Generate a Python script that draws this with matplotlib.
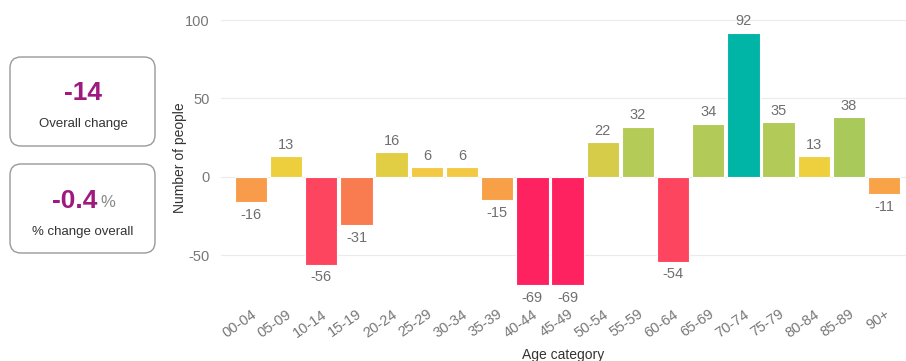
import matplotlib.pyplot as plt
import numpy as np
from matplotlib.patches import FancyBboxPatch
from matplotlib.transforms import IdentityTransform

categories = ['00-04', '05-09', '10-14', '15-19', '20-24', '25-29', '30-34', '35-39', '40-44',
              '45-49', '50-54', '55-59', '60-64', '65-69', '70-74', '75-79', '80-84', '85-89', '90+']
values = [-16, 13, -56, -31, 16, 6, 6, -15, -69, -69, 22, 32, -54, 34, 92, 35, 13, 38, -11]
colors = ['#F89B4A', '#EDCF3E', '#FE4560', '#F97B50', '#E2CE44', '#F3C844', '#F3C844', '#F7A048',
          '#FF2261', '#FF2261', '#D6CC4A', '#B4CB57', '#FE4560', '#B2CA58', '#00B4A6', '#B2CA58',
          '#EED03F', '#A9C95B', '#F8A348']
yticks = [-50, 0, 50, 100]

overall_change = '-14'
pct_change = '-0.4'

plt.rcParams['font.family'] = ['Liberation Sans', 'DejaVu Sans']
plt.rcParams['axes.unicode_minus'] = False

W, H = 906, 361
fig = plt.figure(figsize=(W / 100, H / 100), dpi=100)
ax = fig.add_axes([221 / W, (H - 294.5) / H, (906 - 221) / W, (294.5 - 20) / H])

x = np.arange(len(categories))
ax.bar(x, values, width=0.92, color=colors, edgecolor='white', linewidth=0.8, zorder=2)

for xi, v in zip(x, values):
    if v >= 0:
        ax.annotate(str(v), (xi, v), xytext=(0, 3), textcoords='offset points',
                    ha='center', va='bottom', fontsize=10.5, color='#6f6f6f')
    else:
        ax.annotate(str(v), (xi, v), xytext=(0, -4), textcoords='offset points',
                    ha='center', va='top', fontsize=10.5, color='#6f6f6f')

ax.set_xlim(-0.85, 18.62)
ax.set_ylim(-75, 100)
ax.set_yticks(yticks)
ax.grid(axis='y', color='#ebebeb', linewidth=0.8, zorder=0)
for s in ax.spines.values():
    s.set_visible(False)
ax.tick_params(axis='both', length=0, labelsize=10.5, labelcolor='#777777')
ax.tick_params(axis='y', pad=8)
ax.set_xticks(x)
ax.set_xticklabels(categories, rotation=35, ha='right', rotation_mode='anchor')
ax.tick_params(axis='x', pad=9)
ax.set_ylabel('Number of people', fontsize=10, color='#333333')
ax.yaxis.set_label_coords((187 - 221) / 685, 0.5)
ax.set_xlabel('Age category', fontsize=10, color='#333333', labelpad=6)

# summary boxes on the left
for top in [57, 164]:
    box = FancyBboxPatch((10, H - top - 89), 145, 89,
                         boxstyle='round,pad=0,rounding_size=11',
                         transform=IdentityTransform(), facecolor='white',
                         edgecolor='#999999', linewidth=1)
    fig.add_artist(box)

fig.text(83 / W, 1 - 93 / H, overall_change, ha='center', va='center',
         fontsize=19, fontweight='bold', color='#9E1A7E')
fig.text(83 / W, 1 - 124 / H, 'Overall change', ha='center', va='center',
         fontsize=9.5, color='#333333')
fig.text(97 / W, 1 - 201 / H, pct_change, ha='right', va='center',
         fontsize=19, fontweight='bold', color='#9E1A7E')
fig.text(100 / W, 1 - 203 / H, '%', ha='left', va='center',
         fontsize=12, color='#888888')
fig.text(83 / W, 1 - 232 / H, '% change overall', ha='center', va='center',
         fontsize=9.5, color='#333333')

fig.savefig('out.png', dpi=100)
